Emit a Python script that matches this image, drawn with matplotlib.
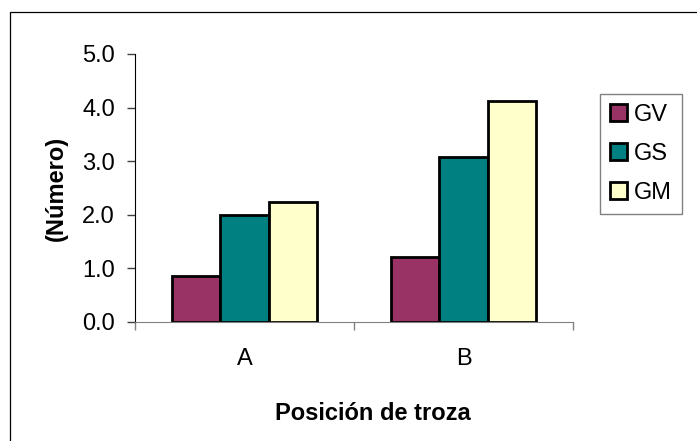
import matplotlib
matplotlib.use("Agg")
import matplotlib.pyplot as plt
from matplotlib.patches import Patch, Rectangle
from matplotlib.ticker import FormatStrFormatter
import numpy as np

# data
categories = ["A", "B"]
series_names = ["GV", "GS", "GM"]
gv_values = [0.86, 1.22]
gs_values = [1.99, 3.08]
gm_values = [2.24, 4.13]
series_colors = ["#993366", "#008080", "#FFFFCC"]
y_ticks = [0.0, 1.0, 2.0, 3.0, 4.0, 5.0]

plt.rcParams["font.family"] = ["Liberation Sans", "DejaVu Sans"]
FS = 17

W, H = 697, 441
fig = plt.figure(figsize=(W / 100, H / 100), dpi=100)
ax = fig.add_axes([135 / W, 1 - 322 / H, (573 - 135) / W, (322 - 54) / H])

# frame around the chart area (only top and left visible in the crop)
fig.add_artist(Rectangle((10 / W, -0.1), 1.2, (H - 12) / H + 0.1,
                         transform=fig.transFigure, fill=False,
                         ec="black", lw=0.9))

x = np.arange(len(categories)) + 0.5
bar_w = 0.221
for i, (vals, col) in enumerate(zip([gv_values, gs_values, gm_values], series_colors)):
    ax.bar(x + (i - 1) * bar_w, vals, width=bar_w, color=col,
           edgecolor="black", linewidth=2, zorder=3)

ax.set_xlim(0, len(categories))
ax.set_ylim(0, 5)
ax.set_yticks(y_ticks)
ax.yaxis.set_major_formatter(FormatStrFormatter("%.1f"))

# category boundaries carry the ticks, labels sit in the middle
ax.set_xticks(np.arange(len(categories) + 1))
ax.set_xticklabels([])
ax.set_xticks(x, minor=True)
ax.set_xticklabels(categories, minor=True)
ax.tick_params(axis="x", which="major", direction="out", length=6, width=1, color="#808080")
ax.tick_params(axis="x", which="minor", length=0, pad=19, labelsize=FS)
ax.tick_params(axis="y", direction="out", length=6, width=1, color="#404040",
               pad=8.5, labelsize=FS)

for s in ["top", "right"]:
    ax.spines[s].set_visible(False)
ax.spines["bottom"].set_color("#808080")
ax.spines["left"].set_color("black")
ax.spines["bottom"].set_zorder(4)

ax.set_ylabel("(Número)", fontsize=FS, fontweight="bold")
ax.yaxis.set_label_coords((68 - 135) / (573 - 135), 0.5)
fig.text(372.5 / W, 1 - 420 / H, "Posición de troza", fontsize=FS,
         fontweight="bold", ha="center", va="baseline")

handles = [Patch(facecolor=c, edgecolor="black", linewidth=2) for c in series_colors]
leg = fig.legend(handles, series_names, loc="upper left",
                 bbox_to_anchor=(600 / W, 1 - 94 / H), borderaxespad=0,
                 fontsize=FS, handlelength=0.72, handleheight=0.72,
                 handletextpad=0.3, labelspacing=0.72, borderpad=0.42,
                 fancybox=False, framealpha=1)
leg.get_frame().set_edgecolor("#808080")
leg.get_frame().set_linewidth(1)

fig.savefig("out.png", dpi=100)
